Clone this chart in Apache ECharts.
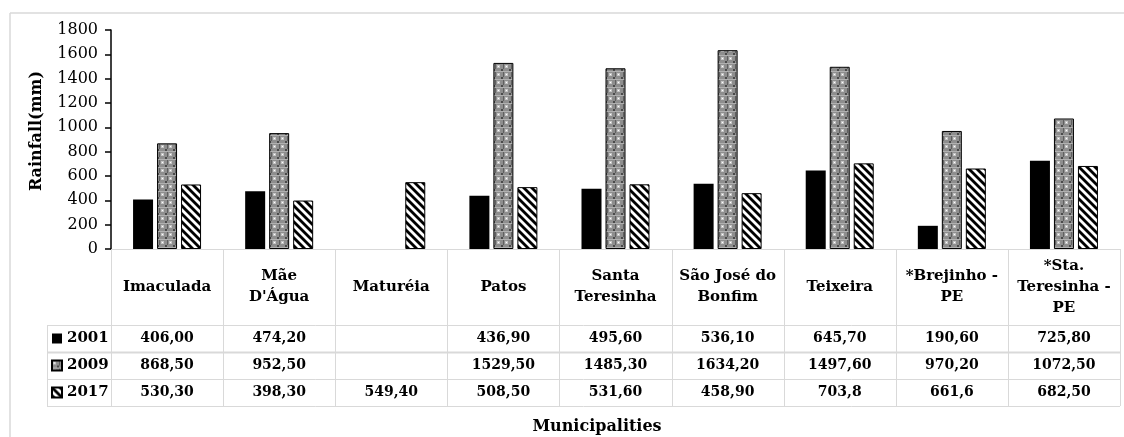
<!DOCTYPE html>
<html>
<head>
<meta charset="utf-8">
<script src="https://cdn.jsdelivr.net/npm/echarts@6/dist/echarts.min.js"></script>
<style>
  html, body { margin: 0; padding: 0; background: #fff; }
  #chart { width: 1124px; height: 437px; }
</style>
</head>
<body>
<div id="chart"></div>
<script>
// ---------- data ----------
const categories = ['Imaculada', "Mãe\nD'Água", 'Maturéia', 'Patos', 'Santa\nTeresinha',
  'São José do\nBonfim', 'Teixeira', '*Brejinho -\nPE', '*Sta.\nTeresinha -\nPE'];
const seriesNames = ['2001', '2009', '2017'];
const rain2001 = [406.00, 474.20, null, 436.90, 495.60, 536.10, 645.70, 190.60, 725.80];
const rain2009 = [868.50, 952.50, null, 1529.50, 1485.30, 1634.20, 1497.60, 970.20, 1072.50];
const rain2017 = [530.30, 398.30, 549.40, 508.50, 531.60, 458.90, 703.8, 661.6, 682.50];
const table2001 = ['406,00', '474,20', '', '436,90', '495,60', '536,10', '645,70', '190,60', '725,80'];
const table2009 = ['868,50', '952,50', '', '1529,50', '1485,30', '1634,20', '1497,60', '970,20', '1072,50'];
const table2017 = ['530,30', '398,30', '549,40', '508,50', '531,60', '458,90', '703,8', '661,6', '682,50'];
const yMin = 0, yMax = 1800, yStep = 200;
const yTitle = 'Rainfall(mm)';
const xTitle = 'Municipalities';

// ---------- layout ----------
const FONT = 'DejaVu Serif';
const plotL = 111, plotR = 1120, plotT = 30, plotB = 249;
const headB = 325, rowH = 27, tableL = 47;
const rowLines = [headB, headB + rowH, headB + 2 * rowH, headB + 3 * rowH];
const lineCol = '#d9d9d9';

// ---------- patterns ----------
function stripePattern() {
  const s = 8;
  const c = document.createElement('canvas');
  c.width = s; c.height = s;
  const g = c.getContext('2d');
  g.fillStyle = '#fff'; g.fillRect(0, 0, s, s);
  g.strokeStyle = '#000'; g.lineWidth = 2.8;
  [-s, 0, s].forEach(function (o) {
    g.beginPath(); g.moveTo(o - 1, -1); g.lineTo(o + s + 1, s + 1); g.stroke();
  });
  return c;
}
function plaidPattern() {
  const c = document.createElement('canvas');
  c.width = 8; c.height = 8;
  const g = c.getContext('2d');
  g.fillStyle = '#8e8e8e'; g.fillRect(0, 0, 8, 8);
  g.fillStyle = '#c4c4c4'; g.fillRect(1, 1, 3, 3);
  g.fillStyle = '#ffffff'; g.fillRect(2, 2, 1, 1);
  g.fillStyle = '#4a4a4a'; g.fillRect(5, 5, 2, 2);
  g.fillStyle = '#b0b0b0'; g.fillRect(0, 7, 8, 1);
  g.fillStyle = '#606060'; g.fillRect(7, 0, 1, 5);
  return c;
}

const chart = echarts.init(document.getElementById('chart'));

const cw = (plotR - plotL) / categories.length;
const graphics = [];
// table vertical lines
for (let i = 0; i <= categories.length; i++) {
  const x = Math.round(plotL + i * cw) + 0.5;
  graphics.push({ type: 'line', shape: { x1: x, y1: plotB, x2: x, y2: rowLines[3] },
    style: { stroke: lineCol, lineWidth: 1 }, z: 1 });
}
rowLines.forEach(function (y, k) {
  graphics.push({ type: 'line', shape: { x1: tableL, y1: y + 0.5, x2: plotR, y2: y + 0.5 },
    style: { stroke: lineCol, lineWidth: k === 1 ? 2 : 1 }, z: 1 });
});
graphics.push({ type: 'line', shape: { x1: tableL + 0.5, y1: headB, x2: tableL + 0.5, y2: rowLines[3] },
  style: { stroke: lineCol, lineWidth: 1 }, z: 1 });
// outer frame
graphics.push({ type: 'line', shape: { x1: 10, y1: 13, x2: 1124, y2: 13 }, style: { stroke: lineCol, lineWidth: 1.5 } });
graphics.push({ type: 'line', shape: { x1: 10, y1: 13, x2: 10, y2: 437 }, style: { stroke: lineCol, lineWidth: 1.5 } });
// titles
graphics.push({ type: 'text', x: 37, y: 131, rotation: Math.PI / 2,
  style: { text: yTitle, font: 'bold 16px "' + FONT + '"', fill: '#000', align: 'center', verticalAlign: 'middle' } });
graphics.push({ type: 'text', x: 597, y: 427,
  style: { text: xTitle, font: 'bold 16px "' + FONT + '"', fill: '#000', align: 'center', verticalAlign: 'middle' } });

function rowAxis(data, k) {
  return {
    type: 'category', gridIndex: 0, position: 'bottom', data: data,
    axisLine: { show: false }, axisTick: { show: false }, splitLine: { show: false },
    axisLabel: { interval: 0, margin: rowLines[k] + rowH / 2 - plotB, verticalAlign: 'middle',
      fontFamily: FONT, fontWeight: 'bold', fontSize: 14, color: '#000' }
  };
}

const stripe = { image: stripePattern(), repeat: 'repeat' };
const plaid = { image: plaidPattern(), repeat: 'repeat' };

chart.setOption({
  animation: false,
  textStyle: { fontFamily: FONT },
  grid: { left: plotL, right: 1124 - plotR, top: plotT, bottom: 437 - plotB, containLabel: false },
  legend: {
    orient: 'vertical', left: 51, top: 331, padding: 0, itemGap: 12,
    itemWidth: 10, itemHeight: 10, selectedMode: false, icon: 'rect',
    data: seriesNames,
    textStyle: { fontFamily: FONT, fontWeight: 'bold', fontSize: 15, color: '#000' }
  },
  xAxis: [
    {
      type: 'category', gridIndex: 0, data: categories,
      axisLine: { show: true, lineStyle: { color: lineCol, width: 1 } },
      axisTick: { show: false },
      axisLabel: { interval: 0, margin: (headB - plotB) / 2, verticalAlign: 'middle',
        fontFamily: FONT, fontWeight: 'bold', fontSize: 15, lineHeight: 21, color: '#000' }
    },
    rowAxis(table2001, 0),
    rowAxis(table2009, 1),
    rowAxis(table2017, 2)
  ],
  yAxis: {
    type: 'value', min: yMin, max: yMax, interval: yStep,
    axisLine: { show: true, lineStyle: { color: '#000', width: 1.5 } },
    axisTick: { show: true, length: 6, lineStyle: { color: '#000', width: 1.5 } },
    splitLine: { show: false },
    axisLabel: { margin: 13, fontFamily: FONT, fontSize: 16, color: '#000',
      formatter: function (v) { return String(v); } }
  },
  series: [
    { name: seriesNames[0], type: 'bar', xAxisIndex: 0, data: rain2001, barWidth: 20, barGap: '20%',
      itemStyle: { color: '#000' } },
    { name: seriesNames[1], type: 'bar', xAxisIndex: 0, data: rain2009, barWidth: 20, barGap: '20%',
      itemStyle: { color: plaid, borderColor: '#000', borderWidth: 1 } },
    { name: seriesNames[2], type: 'bar', xAxisIndex: 0, data: rain2017, barWidth: 20, barGap: '20%',
      itemStyle: { color: stripe, borderColor: '#000', borderWidth: 1 } }
  ],
  graphic: graphics
});
</script>
</body>
</html>
